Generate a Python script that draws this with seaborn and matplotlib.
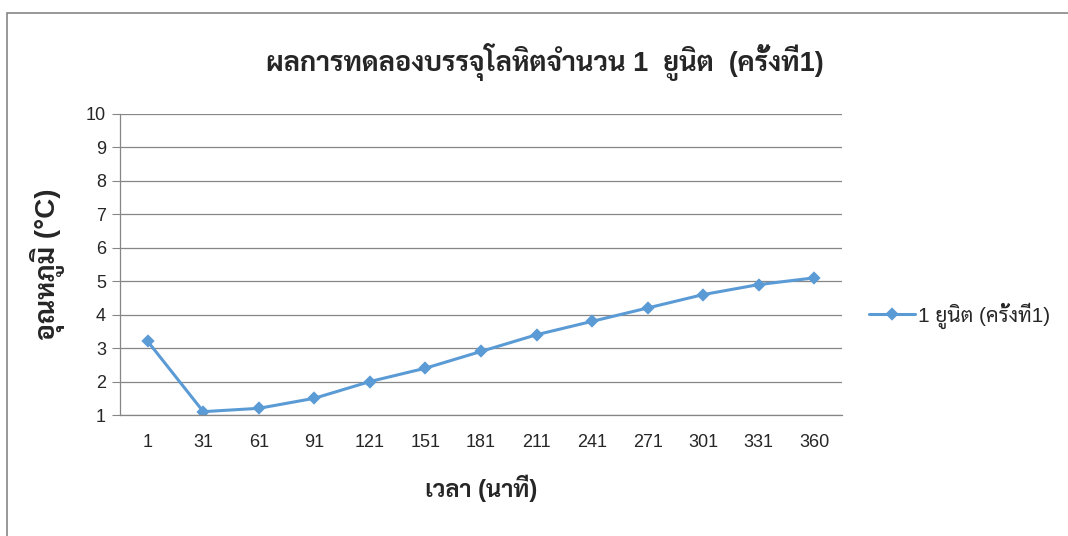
import matplotlib
matplotlib.use("Agg")
import matplotlib.pyplot as plt
import matplotlib.patches as patches
import pandas as pd
import seaborn as sns

# datos
tiempos = ["1", "31", "61", "91", "121", "151", "181", "211", "241", "271", "301", "331", "360"]
temperaturas = [3.2, 1.1, 1.2, 1.5, 2.0, 2.4, 2.9, 3.4, 3.8, 4.2, 4.6, 4.9, 5.1]
serie = "1 ยูนิต (ครั้งที่1)"
titulo = "ผลการทดลองบรรจุโลหิตจำนวน 1  ยูนิต  (ครั้งที่1)"
etiqueta_x = "เวลา (นาที)"
etiqueta_y = "อุณหภูมิ (°C)"
yticks = list(range(1, 11))

AZUL = "#5B9BD5"
GRIS = "#868686"

sns.set_style("white")
plt.rcParams['font.family'] = ['Liberation Sans', 'Sarabun', 'Noto Sans Thai Looped', 'DejaVu Sans']

df = pd.DataFrame({"tiempo": tiempos, "temp": temperaturas})

fig = plt.figure(figsize=(10.68, 5.36), dpi=100)
ax = fig.add_axes([120 / 1068, 1 - 415 / 536, 722 / 1068, 301 / 536])

sns.pointplot(data=df, x="tiempo", y="temp", order=tiempos, color=AZUL,
              markers="D", markersize=5, linewidth=2.2, label=serie, ax=ax)

ax.set_xlim(-0.5, len(tiempos) - 0.5)
ax.set_ylim(1, 10)
ax.set_yticks(yticks)
ax.yaxis.grid(True, color=GRIS, linewidth=0.9)
ax.set_axisbelow(True)
for lado in ["top", "right"]:
    ax.spines[lado].set_visible(False)
for lado in ["left", "bottom"]:
    ax.spines[lado].set_color(GRIS)
    ax.spines[lado].set_linewidth(0.9)
ax.tick_params(axis="y", length=6, color=GRIS, labelsize=13, pad=4, left=True)
ax.tick_params(axis="x", length=0, labelsize=13, pad=14)
ax.set_xlabel(etiqueta_x, fontsize=17, fontweight="bold", labelpad=17)
ax.set_ylabel(etiqueta_y, fontsize=20, fontweight="bold", labelpad=15)
fig.text(0.51, 1 - 62 / 536, titulo, ha="center", va="center", fontsize=19.5, fontweight="bold")

leg = ax.legend(loc="center left", bbox_to_anchor=(1.012, 0.33), frameon=False,
                fontsize=15, handlelength=2.2, handletextpad=0.15)

# marco exterior del grafico
fig.patches.append(patches.Rectangle((7 / 1068, -0.1), 1.2, 1 - 13 / 536 + 0.1,
                                     transform=fig.transFigure, fill=False,
                                     edgecolor=GRIS, linewidth=1.2))

fig.savefig("out.png", dpi=100)
